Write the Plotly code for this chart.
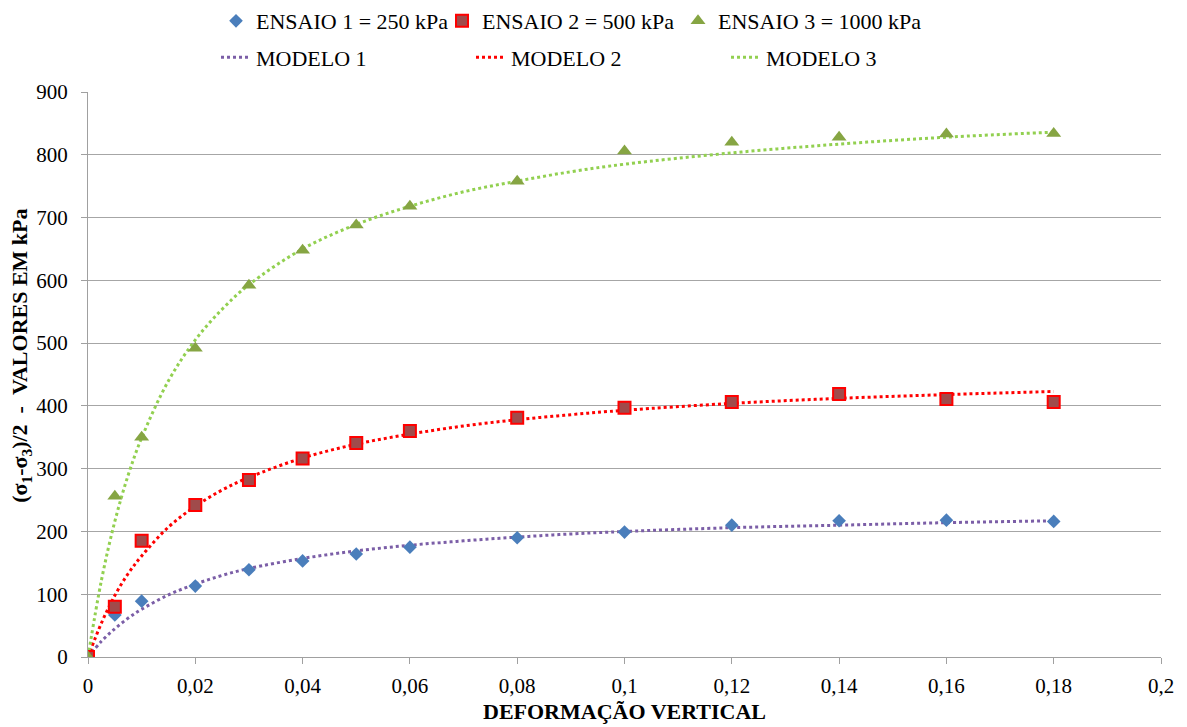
import plotly.graph_objects as go

# ---------- dados ----------
x_ensaio = [0, 0.005, 0.01, 0.02, 0.03, 0.04, 0.05, 0.06, 0.08, 0.1, 0.12, 0.14, 0.16, 0.18]
ensaio_1 = [0, 67, 89, 113, 139, 153, 164, 175, 190, 199, 210, 217, 218, 216]
ensaio_2 = [0, 80, 185, 242, 282, 316, 341, 360, 381, 397, 406, 419, 411, 406]
ensaio_3 = [0, 256, 350, 492, 592, 648, 688, 718, 758, 806, 820, 828, 833, 834]

x_modelo = [0, 0.0025, 0.005, 0.0075, 0.01, 0.015, 0.02, 0.025, 0.03, 0.04, 0.05,
            0.06, 0.07, 0.08, 0.09, 0.1, 0.12, 0.14, 0.16, 0.18]
modelo_1 = [0, 25, 45, 62, 76, 99, 116, 130, 141, 157, 169,
            178, 185, 191, 196, 200, 206, 210, 214, 217]
modelo_2 = [0, 54, 98, 133, 161, 207, 240, 266, 286, 317, 339,
            355, 368, 378, 386, 393, 404, 412, 418, 423]
modelo_3 = [0, 122, 216, 290, 349, 440, 505, 554, 593, 650, 689,
            718, 741, 758, 773, 785, 803, 817, 828, 836]

x_ticks = [0, 0.02, 0.04, 0.06, 0.08, 0.1, 0.12, 0.14, 0.16, 0.18, 0.2]

FONTE = "Liberation Serif"
W, H = 1187, 727

fig = go.Figure()

# curvas do modelo (pontilhadas) - uma legenda por item (linha de baixo)
modelos = [("MODELO 1", modelo_1, "#7B5EA7", "legend4"),
           ("MODELO 2", modelo_2, "#FF0000", "legend5"),
           ("MODELO 3", modelo_3, "#92D050", "legend6")]
for nome, y, cor, leg in modelos:
    fig.add_trace(go.Scatter(
        x=x_modelo, y=y, mode="lines", name=nome,
        line=dict(color=cor, width=3, dash="dot", shape="spline"),
        legend=leg
    ))

# pontos dos ensaios (linha de cima da legenda)
fig.add_trace(go.Scatter(
    x=x_ensaio, y=ensaio_1, mode="markers", name="ENSAIO 1 = 250 kPa",
    marker=dict(symbol="diamond", size=10.5, color="#4A7EBB"),
    legend="legend"
))
fig.add_trace(go.Scatter(
    x=x_ensaio, y=ensaio_2, mode="markers", name="ENSAIO 2 = 500 kPa",
    marker=dict(symbol="square", size=12, color="#A04B4B",
                line=dict(color="#FF0000", width=2)),
    legend="legend2"
))
fig.add_trace(go.Scatter(
    x=x_ensaio, y=ensaio_3, mode="markers", name="ENSAIO 3 = 1000 kPa",
    marker=dict(symbol="triangle-up", size=13, color="#86A543"),
    legend="legend3"
))


def legenda(x_px, y_frac):
    return dict(orientation="h", xref="container", yref="container",
                x=x_px / W, y=y_frac, xanchor="left", yanchor="top",
                font=dict(family=FONTE, size=22), bgcolor="rgba(0,0,0,0)")


fig.update_layout(
    width=W, height=H,
    margin=dict(l=88, r=26, t=92, b=70, autoexpand=False),
    paper_bgcolor="white", plot_bgcolor="white",
    font=dict(family=FONTE, size=21, color="black"),
    separators=", ",
    showlegend=True,
    legend=legenda(216, 1.0),
    legend2=legenda(442, 1.0),
    legend3=legenda(678, 1.0),
    legend4=legenda(216, 0.95),
    legend5=legenda(471, 0.95),
    legend6=legenda(726, 0.95),
)

fig.update_xaxes(
    range=[0, 0.2], tickvals=x_ticks,
    showgrid=False, zeroline=False,
    showline=True, linecolor="#A0A0A0", linewidth=1,
    ticks="outside", ticklen=6, tickcolor="#A0A0A0",
    tickfont=dict(family=FONTE, size=21), ticklabelstandoff=4,
)
fig.update_yaxes(
    range=[0, 900], dtick=100,
    showgrid=True, gridcolor="#A6A6A6", gridwidth=1,
    zeroline=False,
    showline=True, linecolor="#A0A0A0", linewidth=1,
    ticks="outside", ticklen=6, tickcolor="#A0A0A0",
    tickfont=dict(family=FONTE, size=21), ticklabelstandoff=9,
)

# títulos dos eixos como anotações para posicionar como no original
fig.add_annotation(
    text="<b>DEFORMAÇÃO VERTICAL</b>", xref="paper", yref="paper",
    x=0.5, y=-0.096, xanchor="center", yanchor="middle", showarrow=False,
    font=dict(family=FONTE, size=22)
)
fig.add_annotation(
    text="<b>(σ<sub>1</sub>-σ<sub>3</sub>)/2  -  VALORES EM kPa</b>",
    xref="paper", yref="paper", x=0, xshift=-67, y=0.533,
    xanchor="center", yanchor="middle", textangle=-90, showarrow=False,
    font=dict(family=FONTE, size=22)
)

# a página tem margem de 8px por padrão; zerar para alinhar com a janela
fig.write_html("out.html", config={"displayModeBar": False},
               post_script="document.body.style.margin='0';")
